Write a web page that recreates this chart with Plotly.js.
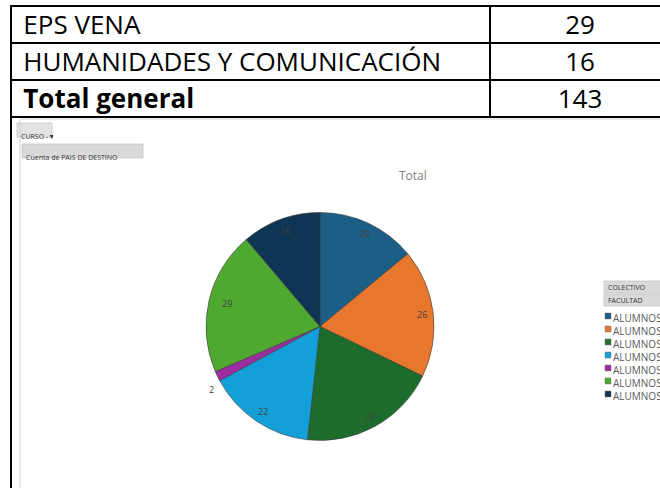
<!DOCTYPE html>
<html>
<head>
<meta charset="utf-8">
<script src="https://cdn.plot.ly/plotly-3.0.1.min.js"></script>
<style>
html, body { margin: 0; padding: 0; overflow: hidden; background: #fff; }
#chart { width: 670px; height: 488px; }
</style>
</head>
<body>
<div id="chart"></div>
<script>
// table rows (bottom of the pivot table)
var facultades = ['EPS VENA', 'HUMANIDADES Y COMUNICACIÓN', 'Total general'];
var cuentas = [29, 16, 143];

// pie: Cuenta de PAIS DE DESTINO por COLECTIVO - FACULTAD
var colectivos = [
    'ALUMNOS - CIENCIAS',
    'ALUMNOS - CIENCIAS DE LA SALUD',
    'ALUMNOS - CIENCIAS ECONÓMICAS Y EMPRESARIALES',
    'ALUMNOS - DERECHO',
    'ALUMNOS - EDUCACIÓN',
    'ALUMNOS - EPS VENA',
    'ALUMNOS - HUMANIDADES Y COMUNICACIÓN'
];
var valores = [20, 26, 28, 22, 2, 29, 16];
var colores = ['#1b5f86', '#e8772e', '#1e6c2b', '#139fd8', '#9b2da1', '#4fa82f', '#0e3553'];

var W = 670, H = 488;
function fx(x) { return x / W; }
function fy(y) { return 1 - y / H; }

var font = 'Open Sans, sans-serif';

var celdas = facultades.map(function (f) { return '\u2009' + f; });
var pesos = facultades.map(function (f, i) {
    return i === facultades.length - 1 ? 'bold' : 'normal';
});

// first visible row goes in the header so the table starts right at the top
function estilo(w) {
    return {
        align: ['left', 'center'],
        height: 37,
        font: {family: font, size: 26, color: '#000', weight: [w, 'normal']},
        line: {color: '#000', width: 2},
        fill: {color: '#fff'}
    };
}
var tabla = {
    type: 'table',
    domain: {x: [fx(11), 1], y: [fy(122), fy(6)]},
    columnwidth: [479, 180],
    header: Object.assign({values: [[celdas[0]], [cuentas[0]]]}, estilo([pesos[0]])),
    cells: Object.assign({values: [celdas.slice(1), cuentas.slice(1)]}, estilo(pesos.slice(1)))
};

// pie geometry (pixels)
var pie = {x0: 206, x1: 434, y0: 212, y1: 441};
var cx = (pie.x0 + pie.x1) / 2, cy = (pie.y0 + pie.y1) / 2, R = (pie.x1 - pie.x0) / 2;

var tarta = {
    type: 'pie',
    labels: colectivos,
    values: valores,
    sort: false,
    direction: 'clockwise',
    rotation: 0,
    marker: {colors: colores, line: {color: '#3a3a3a', width: 0.6}},
    textinfo: 'none',
    hoverinfo: 'none',
    showlegend: false,
    domain: {x: [fx(pie.x0), fx(pie.x1)], y: [fy(pie.y1), fy(pie.y0)]}
};

var annotations = [];
var shapes = [];

// slice value labels (inside end, small slices outside)
var total = valores.reduce(function (a, b) { return a + b; }, 0);
var acum = 0;
valores.forEach(function (v) {
    var ang = (acum + v / 2) / total * 2 * Math.PI;
    acum += v;
    var r = v / total < 0.03 ? R * 1.1 : R * 0.9;
    annotations.push({
        xref: 'paper', yref: 'paper',
        x: fx(cx + r * Math.sin(ang)), y: fy(cy - r * Math.cos(ang)),
        yanchor: v / total < 0.03 ? 'top' : 'middle',
        text: String(v), showarrow: false,
        font: {family: font, size: 9, color: '#404040'}
    });
});

// chart title
annotations.push({
    xref: 'paper', yref: 'paper', x: fx(413), y: fy(175),
    text: 'Total', showarrow: false,
    font: {family: font, size: 12, color: '#7f7f7f'}
});

// frame of the pasted chart and left border of the sheet
shapes.push({type: 'rect', xref: 'paper', yref: 'paper',
    x0: fx(20), x1: fx(700), y0: fy(520), y1: fy(119),
    line: {color: '#d4d4d4', width: 1}});
shapes.push({type: 'line', xref: 'paper', yref: 'paper',
    x0: fx(11), x1: fx(11), y0: fy(117), y1: fy(490),
    line: {color: '#000', width: 2}});

// pivot field buttons
function boton(x0, x1, y0, y1, texto, fill, w) {
    shapes.push({type: 'rect', xref: 'paper', yref: 'paper', layer: 'below',
        x0: fx(x0), x1: fx(x1), y0: fy(y1), y1: fy(y0),
        fillcolor: fill, line: {color: '#c6c6c6', width: 0.8}});
    annotations.push({xref: 'paper', yref: 'paper', x: fx(x0 + 2), y: fy((y0 + y1) / 2),
        xanchor: 'left', align: 'left', width: w, text: texto, showarrow: false,
        font: {family: font, size: 7, color: '#333'}});
}
boton(17, 52, 123, 137, 'CURSO -▼', '#e3e3e3', 32);
boton(22, 143, 144, 158, 'Cuenta de PAIS DE DESTINO', '#d9d9d9', 118);
boton(604, 700, 281, 293, 'COLECTIVO', '#d9d9d9', 52);
boton(604, 700, 294, 306, 'FACULTAD', '#d9d9d9', 52);

// legend: swatches plus one text block, cut at the sheet edge
var paso = 13;
colectivos.forEach(function (c, i) {
    var y = 316 + i * paso;
    shapes.push({type: 'rect', xref: 'paper', yref: 'paper',
        x0: fx(605), x1: fx(611), y0: fy(y + 3), y1: fy(y - 3),
        fillcolor: colores[i], line: {color: '#777', width: 0.5}});
});
annotations.push({xref: 'paper', yref: 'paper', x: fx(612), y: fy(316 - paso / 2),
    xanchor: 'left', yanchor: 'top', align: 'left', width: 48, borderpad: 0,
    text: colectivos.join('<br>'), showarrow: false,
    font: {family: font, size: 10, color: '#595959'}});

var layout = {
    width: W,
    height: H,
    margin: {l: 0, r: 0, t: 0, b: 0},
    paper_bgcolor: '#fff',
    showlegend: false,
    annotations: annotations,
    shapes: shapes
};

Plotly.newPlot('chart', [tabla, tarta], layout, {displayModeBar: false, staticPlot: true});
</script>
</body>
</html>
